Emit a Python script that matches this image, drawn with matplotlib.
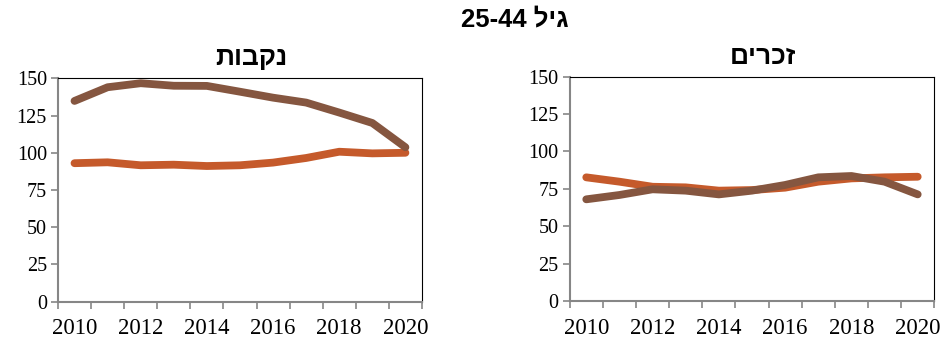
import numpy as np, matplotlib; matplotlib.use("Agg"); import matplotlib.pyplot as plt

years = list(range(2010, 2021))
fem_orange = [93, 93.6, 91.6, 92, 91.1, 91.6, 93.4, 96.5, 100.7, 99.6, 100]
fem_brown = [134.8, 144, 146.7, 145, 144.9, 141, 137, 133.7, 127, 120, 103.7]
male_orange = [82.7, 79.8, 76.4, 76, 73.8, 74.2, 75.8, 79.8, 82, 82.7, 83.1]
male_brown = [68, 70.9, 74.7, 73.8, 71.3, 73.8, 77.6, 82.7, 83.6, 79.8, 71.3]
yticks = [0, 25, 50, 75, 100, 125, 150]
xlabels = [2010, 2012, 2014, 2016, 2018, 2020]
suptitle = "גיל 25-44"
titles = ["נקבות", "זכרים"]

ORANGE = "#c55a2b"; BROWN = "#855640"; GRAY = "#868686"
HEB = ["Liberation Sans", "DejaVu Sans"]
def vis(s):
    # matplotlib has no bidi: reverse Hebrew runs, keep numbers LTR
    parts = s.split(" ")
    return " ".join(p if p[0].isdigit() else p[::-1] for p in parts[::-1])

fig = plt.figure(figsize=(9.44, 3.43), dpi=100); fig.patch.set_facecolor("white")
boxes = [(0.0614, 0.1204, 0.3856, 0.6513), (0.6035, 0.1224, 0.3862, 0.654)]
series = [(fem_orange, fem_brown), (male_orange, male_brown)]
for (l, b, w, h), (so, sb), t in zip(boxes, series, titles):
    ax = fig.add_axes([l, b, w, h])
    ax.plot(years, so, color=ORANGE, lw=5.6, solid_capstyle="round", solid_joinstyle="round", zorder=2)
    ax.plot(years, sb, color=BROWN, lw=5.6, solid_capstyle="round", solid_joinstyle="round", zorder=3)
    ax.set_xlim(years[0] - 0.5, years[-1] + 0.5); ax.set_ylim(0, 150)
    ax.set_yticks(yticks); ax.set_yticklabels([str(v) for v in yticks], family="Liberation Serif", fontsize=14.5)
    ax.set_xticks([y - 0.5 for y in years] + [years[-1] + 0.5]); ax.set_xticklabels([])
    ax.set_xticks(xlabels, minor=True)
    ax.set_xticklabels([str(v) for v in xlabels], minor=True, family="Liberation Serif", fontsize=16.5)
    ax.tick_params(axis="x", which="minor", length=0, pad=12)
    ax.tick_params(axis="x", which="major", length=5, width=1.2, color=GRAY, direction="out")
    ax.tick_params(axis="y", length=5, width=1.2, color=GRAY, direction="out", pad=3)
    for s in ("left", "bottom"): ax.spines[s].set_color(GRAY); ax.spines[s].set_linewidth(1.5)
    for s in ("top", "right"): ax.spines[s].set_color("black"); ax.spines[s].set_linewidth(0.8)
    ax.text(0.53, 1.09, vis(t), transform=ax.transAxes, ha="center", va="center",
            family=HEB, fontweight="bold", fontsize=19)
fig.text(0.545, 0.942, vis(suptitle), ha="center", va="center", family=HEB, fontweight="bold", fontsize=18.5)
fig.savefig("out.png", dpi=100, facecolor="white")
